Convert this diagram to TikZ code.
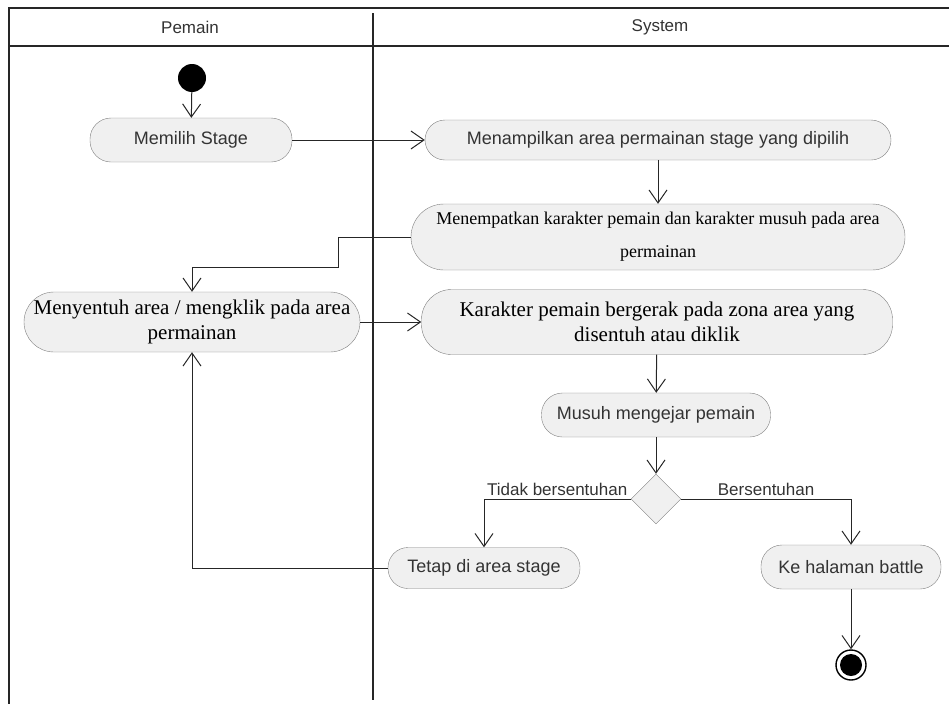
\documentclass[tikz,border=0pt]{standalone}
\usepackage{fontspec}
\setmainfont{Liberation Sans}
\newfontfamily\seriffont{Liberation Serif}
\usetikzlibrary{arrows.meta,shapes.geometric}
\tikzset{
  act/.style={draw=black!50, fill=black!6, rounded corners=21pt, minimum height=44pt,
    text=black!80, font=\fontsize{18}{21}\selectfont},
  bigact/.style={act, rounded corners=30pt, minimum height=64pt, align=center, text=black,
    font=\seriffont\fontsize{21}{25}\selectfont},
  flow/.style={-{Straight Barb[length=13pt,width=18pt]}, black!85, line width=1pt},
  lane/.style={line width=2.6pt, black!85},
}
\begin{document}
\begin{tikzpicture}[x=1pt,y=-1pt]
\useasboundingbox (0,0) rectangle (949,704);
% partisi
\draw[line width=1.8pt, black!85] (949,8) -- (9,8) -- (9,704);
\draw[lane] (9,46) -- (949,46);
\draw[lane] (373,13) -- (373,700);
\node[font=\fontsize{17}{20}\selectfont, text=black!80] (pemain) at (190,27) {Pemain};
\node[font=\fontsize{17}{20}\selectfont, text=black!80] (system) at (660,27) {System};
% aktivitas
\node[circle, fill=black, minimum size=28pt, inner sep=0pt] (mulai) at (192,78) {};
\node[act, minimum width=202pt] (pilih) at (191,140) {Memilih Stage};
\node[act, minimum width=466pt, minimum height=40pt, rounded corners=20pt] (tampil) at (658,140) {Menampilkan area permainan stage yang dipilih};
\node[bigact, minimum width=494pt, minimum height=66pt, rounded corners=33pt,
  font=\seriffont\fontsize{18}{33}\selectfont] (tempat) at (658,237)
  {Menempatkan karakter pemain dan karakter musuh pada area\\ permainan};
\node[bigact, minimum width=336pt, minimum height=60pt] (sentuh) at (192,322) {Menyentuh area / mengklik pada area\\ permainan};
\node[bigact, minimum width=471pt, minimum height=65pt] (gerak) at (657,322) {Karakter pemain bergerak pada zona area yang\\ disentuh atau diklik};
\node[act, minimum width=229pt] (kejar) at (656,415) {Musuh mengejar pemain};
\node[diamond, draw=black!50, fill=black!6, minimum size=50pt, inner sep=0pt] (cek) at (656,499) {};
\node[act, minimum width=192pt, minimum height=41pt, rounded corners=20pt] (tetap) at (484,568) {Tetap di area stage};
\node[act, minimum width=180pt] (battle) at (851,567) {Ke halaman battle};
\node[circle, draw=black, line width=1.4pt, minimum size=30pt, inner sep=0pt] (akhir) at (851,665) {};
\node[circle, fill=black, minimum size=22pt, inner sep=0pt] (akhirdot) at (akhir) {};
\coordinate (belok) at (338,267);
% alur
\draw[flow] (mulai) -- (pilih);
\draw[flow] (pilih) -- (tampil);
\draw[flow] (tampil) -- (tempat);
\draw[flow] (tempat.west) -| (belok) -| (sentuh.north);
\draw[flow] (sentuh) -- (gerak);
\draw[flow] (gerak) -- (kejar);
\draw[flow] (kejar) -- (cek);
\draw[flow] (cek.west) -| (tetap.north)
  node[pos=0, anchor=south east, inner sep=3pt, text=black!80, font=\fontsize{17}{20}\selectfont] {Tidak bersentuhan};
\draw[flow] (cek.east) -| (battle.north)
  node[pos=0.25, above, inner sep=3pt, text=black!80, font=\fontsize{17}{20}\selectfont] {Bersentuhan};
\draw[flow] (tetap.west) -| (sentuh.south);
\draw[flow] (battle) -- (akhir);
\end{tikzpicture}
\end{document}
